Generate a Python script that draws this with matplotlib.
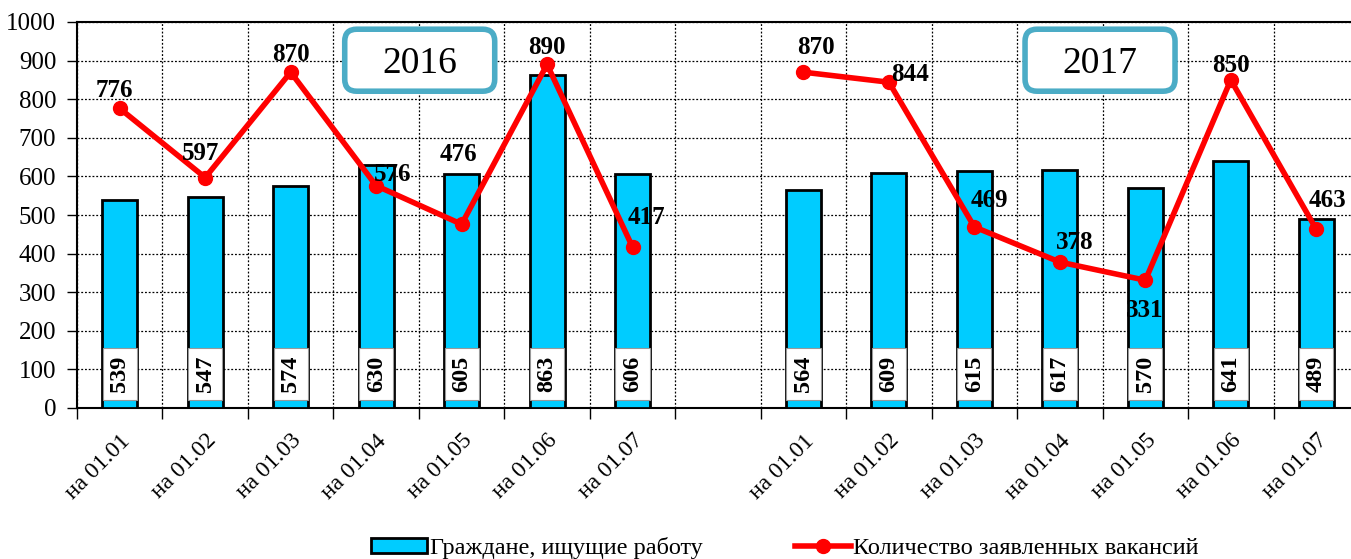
import numpy as np
import matplotlib
matplotlib.use("Agg")
import matplotlib.pyplot as plt
from matplotlib.patches import FancyBboxPatch
from matplotlib.lines import Line2D
from matplotlib.patches import Patch
from matplotlib.transforms import IdentityTransform

plt.rcParams['font.family'] = ['Liberation Serif', 'DejaVu Serif']

categories = ["на 01.01", "на 01.02", "на 01.03", "на 01.04", "на 01.05", "на 01.06", "на 01.07",
              "",
              "на 01.01", "на 01.02", "на 01.03", "на 01.04", "на 01.05", "на 01.06", "на 01.07"]
job_seekers = [539, 547, 574, 630, 605, 863, 606, np.nan, 564, 609, 615, 617, 570, 641, 489]
vacancies = [776, 597, 870, 576, 476, 890, 417, np.nan, 870, 844, 469, 378, 331, 850, 463]
years = ["2016", "2017"]
bar_label = "Граждане, ищущие работу"
line_label = "Количество заявленных вакансий"

# label offsets (pixels, text centre relative to point) for line value labels
vac_offsets = [(-5, 20), (-5, 27), (0, 20), (16, 14), (-3, 72), (0, 19), (14, 32), None,
               (12, 27), (21, 10), (15, 29), (15, 22), (-1, -28), (0, 17), (11, 31)]

W, H, DPI = 1351, 559, 100
fig = plt.figure(figsize=(W / DPI, H / DPI), dpi=DPI)
ax = fig.add_axes([77 / W, 151 / H, 1282 / W, 386 / H])

x = np.arange(len(categories))
bar_color = "#00CCFF"
ax.bar(x, job_seekers, width=0.41, color=bar_color, edgecolor="black", linewidth=2, zorder=3)

# white label boxes inside bars
box_bottom, box_top = 20, 155
for xi, v in zip(x, job_seekers):
    if np.isnan(v):
        continue
    ax.bar(xi, box_top - box_bottom, bottom=box_bottom, width=0.40, color="white",
           edgecolor="#999999", linewidth=0.8, zorder=4)
    ax.text(xi, (box_top + box_bottom) / 2, f"{int(v)}", rotation=90, ha="center", va="center",
            fontsize=17.5, fontweight="bold", zorder=5)

ax.plot(x, vacancies, color="#FF0000", linewidth=4, marker="o", markersize=10, zorder=6)
for xi, v, off in zip(x, vacancies, vac_offsets):
    if np.isnan(v):
        continue
    ax.annotate(f"{int(v)}", (xi, v), xytext=(off[0] * 0.72, off[1] * 0.72),
                textcoords="offset points", ha="center", va="center_baseline",
                fontsize=18, fontweight="bold", zorder=7)

ax.set_xlim(-0.5, len(categories) - 0.5)
ax.set_ylim(0, 1000)
ax.set_yticks(np.arange(0, 1001, 100))
ax.tick_params(axis="y", labelsize=18, length=7, width=1, direction="out", pad=8)

ax.set_xticks(np.arange(-0.5, len(categories), 1))
ax.set_xticklabels([])
ax.tick_params(axis="x", which="major", length=8, width=1, direction="out")
ax.set_xticks(x, minor=True)
ax.set_xticklabels(categories, minor=True, rotation=45, ha="right", rotation_mode="anchor",
                   fontsize=17)
ax.tick_params(axis="x", which="minor", length=0, pad=16)

ax.grid(True, which="major", color="black", linestyle=(0, (1.5, 1.5)), linewidth=0.9, zorder=0)
ax.set_axisbelow(True)
for s in ["left", "bottom", "top"]:
    ax.spines[s].set_linewidth(1.5)
ax.spines["right"].set_visible(False)

# year boxes (drawn in pixel space, centred on a data position)
fig.canvas.draw()
for year, cx, cy in zip(years, [3.51, 11.47], [901, 901]):
    px, py = ax.transData.transform((cx, cy))
    bw, bh = 150, 62
    patch = FancyBboxPatch((px - bw / 2, py - bh / 2), bw, bh,
                           boxstyle="round,pad=0,rounding_size=12",
                           facecolor="white", edgecolor="#4BACC6", linewidth=4,
                           transform=IdentityTransform(), zorder=8, clip_on=False)
    fig.add_artist(patch)
    fig.text(px / W, py / H, year, ha="center", va="center_baseline", fontsize=27, zorder=9)

handles = [Patch(facecolor=bar_color, edgecolor="black", linewidth=2),
           Line2D([], [], color="#FF0000", linewidth=4, marker="o", markersize=10)]
fig.legend(handles, [bar_label, line_label], loc="center", bbox_to_anchor=(785 / W, 0.02),
           ncol=2, frameon=False, fontsize=17.5, handlelength=2.3, handletextpad=0.1,
           columnspacing=3.8, handleheight=0.55)

fig.savefig("out.png", dpi=DPI)
